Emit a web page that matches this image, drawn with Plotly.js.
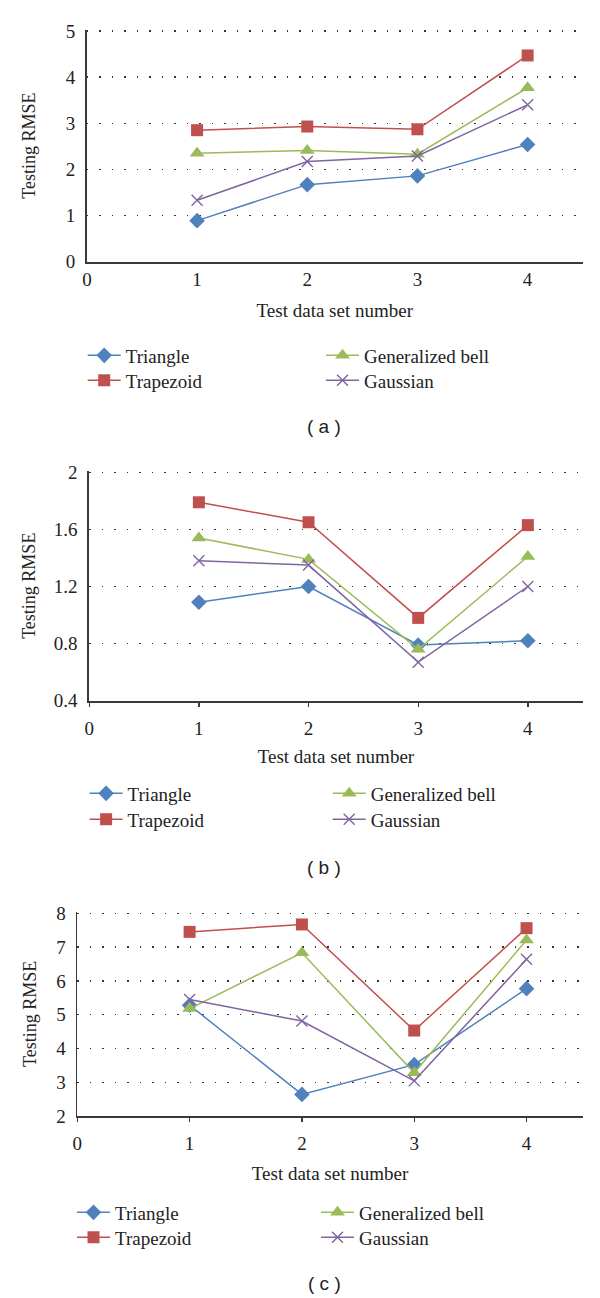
<!DOCTYPE html>
<html>
<head>
<meta charset="utf-8">
<script src="https://cdn.plot.ly/plotly-3.0.1.min.js"></script>
<style>html,body{margin:0;padding:0;background:#fff;}#chart{width:600px;height:1298px;}</style>
</head>
<body>
<div id="chart"></div>
<script>
const xTest = [1, 2, 3, 4];
const xTickVals = [0, 1, 2, 3, 4];
const seriesNames = ["Triangle", "Trapezoid", "Generalized bell", "Gaussian"];
// Panel (a)
const aTriangle = [0.89, 1.67, 1.86, 2.54];
const aTrapezoid = [2.85, 2.93, 2.87, 4.47];
const aBell = [2.35, 2.41, 2.33, 3.77];
const aGaussian = [1.33, 2.17, 2.29, 3.40];
// Panel (b)
const bTriangle = [1.09, 1.20, 0.79, 0.82];
const bTrapezoid = [1.79, 1.65, 0.98, 1.63];
const bBell = [1.54, 1.39, 0.76, 1.41];
const bGaussian = [1.38, 1.35, 0.67, 1.20];
// Panel (c)
const cTriangle = [5.28, 2.64, 3.52, 5.77];
const cTrapezoid = [7.45, 7.67, 4.53, 7.56];
const cBell = [5.18, 6.83, 3.28, 7.21];
const cGaussian = [5.45, 4.81, 3.04, 6.64];
const panelLabels = ["( a )", "( b )", "( c )"];
const aYTicks = ["0", "1", "2", "3", "4", "5"];
const bYTicks = ["0.4", "0.8", "1.2", "1.6", "2"];
const cYTicks = ["2", "3", "4", "5", "6", "7", "8"];

const colors = ["#4F81BD", "#C0504D", "#9BBB59", "#8064A2"];
const markers = [
  {symbol: "diamond", size: 12},
  {symbol: "square", size: 12},
  {symbol: "triangle-up", size: 13},
  {symbol: "x-thin-open", size: 11}
];
const W = 600, H = 1298;
const serif = "Liberation Serif, Times New Roman, serif";
const fs = 19;
const legItemWidth = 33;

const panels = [
  {data: [aTriangle, aTrapezoid, aBell, aGaussian], yt: aYTicks,
   x0: 86.9, top: 31, bottom: 261.7, rows: [355, 380], lineX: [87.7, 326], labY: 427,
   xticks: "", xstand: 0, xtitle: 14, ytitle: 25},
  {data: [bTriangle, bTrapezoid, bBell, bGaussian], yt: bYTicks,
   x0: 89.2, top: 472.3, bottom: 700.7, rows: [793, 819], lineX: [89.6, 332.7], labY: 867,
   xticks: "outside", xstand: 6, xtitle: 11, ytitle: 13},
  {data: [cTriangle, cTrapezoid, cBell, cGaussian], yt: cYTicks,
   x0: 77.3, top: 913.3, bottom: 1116, rows: [1212, 1237], lineX: [77, 321], labY: 1283,
   xticks: "outside", xstand: 5, xtitle: 14, ytitle: 15}
];
const xRight = 582.7;
const topPad = 1.5; // px, so the top gridline is not clipped at the range end

const traces = [];
const layout = {
  width: W, height: H,
  margin: {l: 0, r: 0, t: 0, b: 0},
  paper_bgcolor: "#fff", plot_bgcolor: "#fff",
  font: {family: serif, size: fs, color: "#222"},
  annotations: [],
  showlegend: true
};

let legIdx = 0;
panels.forEach((p, i) => {
  const n = i === 0 ? "" : String(i + 1);
  const xa = "x" + n, ya = "y" + n;
  const tv = p.yt.map(Number);
  const ymin = tv[0], ymax = tv[tv.length - 1];
  const upp = (ymax - ymin) / (p.bottom - p.top);
  p.data.forEach((vals, k) => {
    legIdx += 1;
    const legName = legIdx === 1 ? "legend" : "legend" + legIdx;
    traces.push({
      type: "scatter", mode: "lines+markers",
      x: xTest, y: vals, xaxis: xa, yaxis: ya,
      name: seriesNames[k],
      legend: legName,
      line: {color: colors[k], width: 1.5},
      marker: {symbol: markers[k].symbol, size: markers[k].size, color: colors[k],
               line: {color: colors[k], width: k === 3 ? 1.4 : 0}},
      cliponaxis: false
    });
    // column: Triangle/Trapezoid left, Generalized bell/Gaussian right
    const col = k < 2 ? 0 : 1;
    const row = k % 2;
    layout[legName] = {
      orientation: "v", xanchor: "left", yanchor: "top",
      x: (p.lineX[col] - 5) / W, y: 1 - (p.rows[row] - 18.5) / H,
      bgcolor: "rgba(0,0,0,0)", borderwidth: 0,
      font: {family: serif, size: fs, color: "#222"},
      itemwidth: legItemWidth, itemclick: false, itemdoubleclick: false
    };
  });
  layout["xaxis" + n] = {
    domain: [p.x0 / W, xRight / W], anchor: ya,
    range: [0, 4.5], tickvals: xTickVals, ticktext: xTickVals.map(String),
    showgrid: false, zeroline: false,
    showline: true, linecolor: "#3a3a3a", linewidth: 1.8,
    ticks: p.xticks, ticklen: 4, tickcolor: "#3a3a3a", tickwidth: 1.3,
    ticklabelstandoff: p.xstand,
    tickfont: {family: serif, size: fs, color: "#222"},
    title: {text: "Test data set number", font: {family: serif, size: fs, color: "#222"}, standoff: p.xtitle},
    fixedrange: true
  };
  layout["yaxis" + n] = {
    domain: [1 - p.bottom / H, 1 - (p.top - topPad) / H], anchor: xa,
    range: [ymin, ymax + topPad * upp], tickvals: tv, ticktext: p.yt,
    showgrid: true, gridcolor: "#333", gridwidth: 1.3, griddash: "1.5px,11px",
    zeroline: false, showline: true, linecolor: "#3a3a3a", linewidth: 1.8,
    ticks: "", ticklabelstandoff: 6,
    tickfont: {family: serif, size: fs, color: "#222"},
    title: {text: "Testing RMSE", font: {family: serif, size: 18, color: "#222"}, standoff: p.ytitle},
    fixedrange: true
  };
  layout.annotations.push({
    xref: "paper", yref: "paper", x: 324 / W, y: 1 - p.labY / H,
    xanchor: "center", yanchor: "middle", showarrow: false,
    text: panelLabels[i], font: {family: "Liberation Sans, Arial, sans-serif", size: 19, color: "#222"}
  });
});

Plotly.newPlot("chart", traces, layout, {displayModeBar: false, staticPlot: true});
</script>
</body>
</html>
